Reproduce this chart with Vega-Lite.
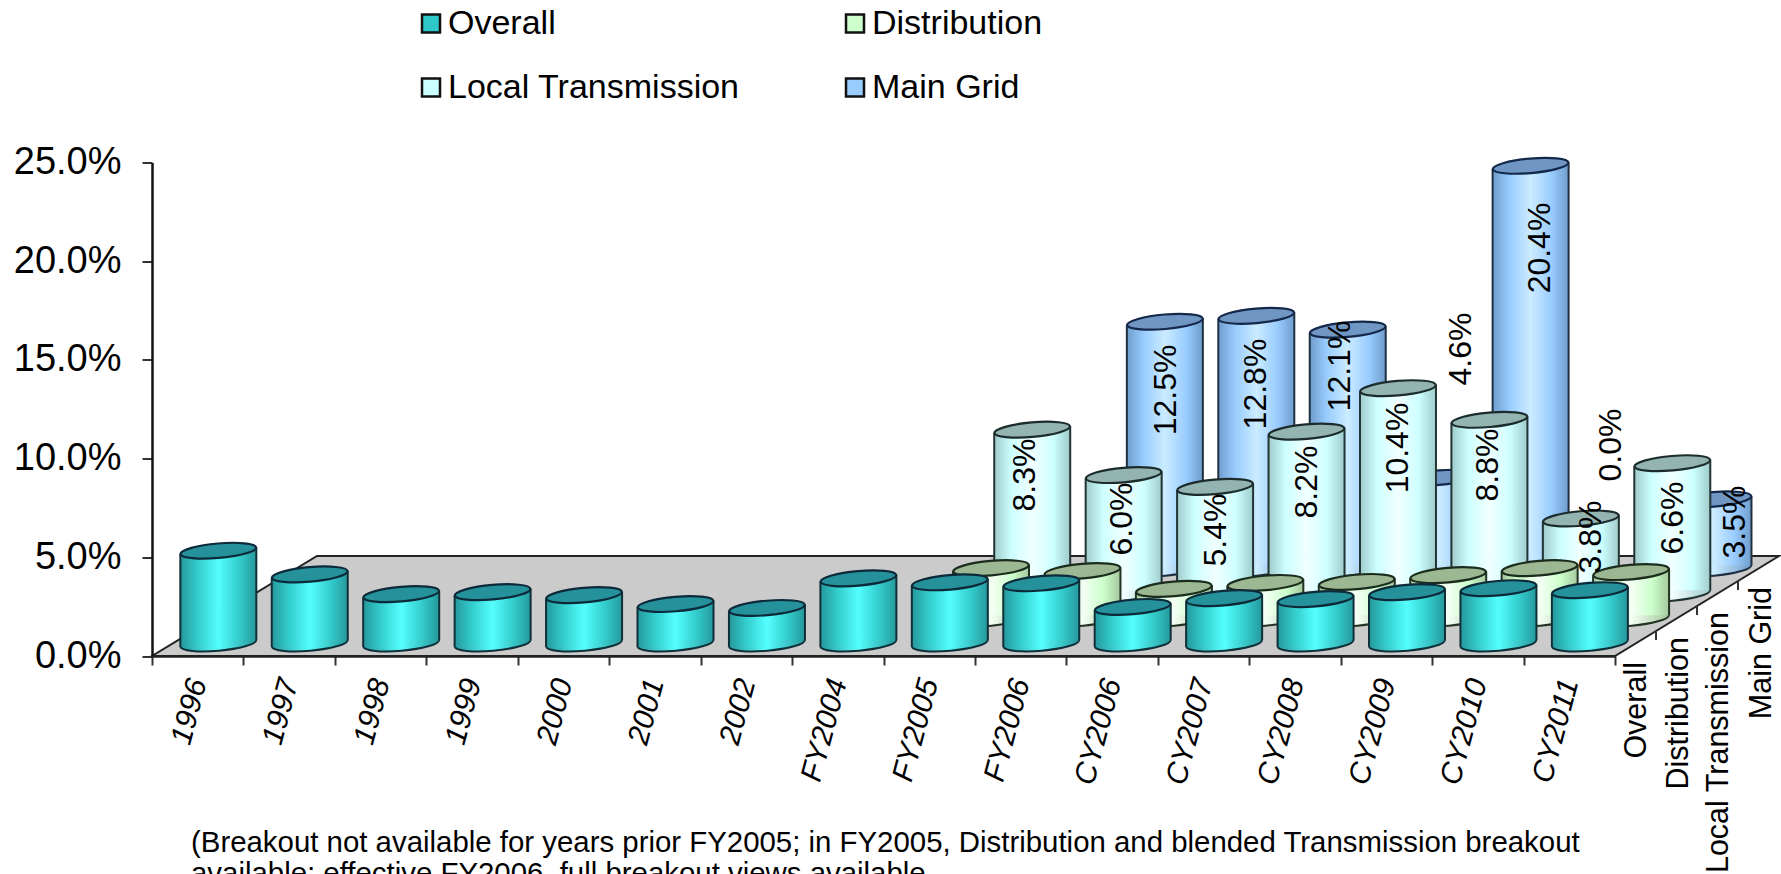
{"$schema":"https://vega.github.io/schema/vega-lite/v6.json","width":1463,"height":493.5,"autosize":"none","padding":{"left":152,"top":162.5,"right":166,"bottom":218},"background":"white","config":{"view":{"stroke":null},"font":"Liberation Sans"},
"title":{"text":["(Breakout not available for years prior FY2005; in FY2005, Distribution and blended Transmission breakout","available; effective FY2006, full breakout views available."],"orient":"bottom","anchor":"start","frame":"group","align":"left","offset":-45,"dx":39,"fontSize":29.4,"fontWeight":"normal","font":"Liberation Sans","color":"black","lineHeight":31},
"data":{"values":[
{"year":"1996","series":"Overall","value":0.047},{"year":"1997","series":"Overall","value":0.035},{"year":"1998","series":"Overall","value":0.025},{"year":"1999","series":"Overall","value":0.026},{"year":"2000","series":"Overall","value":0.0245},{"year":"2001","series":"Overall","value":0.02},{"year":"2002","series":"Overall","value":0.018},{"year":"FY2004","series":"Overall","value":0.033},{"year":"FY2005","series":"Overall","value":0.031},{"year":"FY2006","series":"Overall","value":0.0305},{"year":"CY2006","series":"Overall","value":0.0185},{"year":"CY2007","series":"Overall","value":0.023},{"year":"CY2008","series":"Overall","value":0.0225},{"year":"CY2009","series":"Overall","value":0.026},{"year":"CY2010","series":"Overall","value":0.028},{"year":"CY2011","series":"Overall","value":0.027},
{"year":"FY2005","series":"Distribution","value":0.0255},{"year":"FY2006","series":"Distribution","value":0.024},{"year":"CY2006","series":"Distribution","value":0.015},{"year":"CY2007","series":"Distribution","value":0.018},{"year":"CY2008","series":"Distribution","value":0.0185},{"year":"CY2009","series":"Distribution","value":0.022},{"year":"CY2010","series":"Distribution","value":0.0255},{"year":"CY2011","series":"Distribution","value":0.0235},
{"year":"FY2005","series":"Local Transmission","value":0.083},{"year":"FY2006","series":"Local Transmission","value":0.06},{"year":"CY2006","series":"Local Transmission","value":0.054},{"year":"CY2007","series":"Local Transmission","value":0.082},{"year":"CY2008","series":"Local Transmission","value":0.104},{"year":"CY2009","series":"Local Transmission","value":0.088},{"year":"CY2010","series":"Local Transmission","value":0.038},{"year":"CY2011","series":"Local Transmission","value":0.066},
{"year":"FY2006","series":"Main Grid","value":0.125},{"year":"CY2006","series":"Main Grid","value":0.128},{"year":"CY2007","series":"Main Grid","value":0.121},{"year":"CY2008","series":"Main Grid","value":0.046},{"year":"CY2009","series":"Main Grid","value":0.204},{"year":"CY2010","series":"Main Grid","value":0.0},{"year":"CY2011","series":"Main Grid","value":0.035}
]},
"encoding":{
"x":{"field":"year","type":"nominal","title":null,"sort":null,"scale":{"type":"band","paddingInner":0,"paddingOuter":0,"domain":["1996","1997","1998","1999","2000","2001","2002","FY2004","FY2005","FY2006","CY2006","CY2007","CY2008","CY2009","CY2010","CY2011"]},"axis":{"zindex":1,"tickBand":"extent","tickSize":9,"tickWidth":2,"tickColor":"#333333","domainColor":"#222222","domainWidth":2.5,"labelAngle":285,"labelAlign":"right","labelBaseline":"middle","labelFont":"Liberation Sans","labelFontStyle":"italic","labelFontSize":30,"labelColor":"black","labelPadding":14,"labelOverlap":false,"labelLimit":300,"grid":false}},
"y":{"field":"value","type":"quantitative","title":null,"scale":{"domain":[0,0.25],"nice":false},"axis":{"zindex":1,"values":[0,0.05,0.1,0.15,0.2,0.25],"format":".1%","tickSize":10,"tickWidth":2,"tickColor":"#333333","domainColor":"#111111","domainWidth":2.5,"labelFont":"Liberation Sans","labelFontSize":38,"labelColor":"black","labelPadding":21,"grid":false}}
},
"layer":[
{"mark":{"type":"point","opacity":0,"filled":true},"encoding":{"color":{"field":"series","type":"nominal","scale":{"domain":["Overall","Distribution","Local Transmission","Main Grid"],"range":["#2ec8c8","#ccffcc","#ccffff","#99ccff"]},"legend":{"title":null,"orient":"none","direction":"horizontal","legendX":262,"legendY":-156,"columns":2,"columnPadding":98,"rowPadding":30,"symbolType":"square","symbolSize":324,"symbolOpacity":1,"symbolStrokeColor":"#111111","symbolStrokeWidth":2.5,"labelFont":"Liberation Sans","labelFontSize":34,"labelColor":"black","labelLimit":500,"labelOffset":0,"symbolOffset":0}}}},
{"transform":[{"filter":"datum.year=='1996' && datum.series=='Overall'"}],"mark":{"type":"point","filled":true,"opacity":1,"shape":"M-45.7,0 L1417.3,0 L1581.3,-100 L119.3,-100 Z","size":4,"fill":"#cbcbcb","stroke":"#222222","strokeWidth":2},"encoding":{"y":{"datum":0,"type":"quantitative"}}},

{"transform":[{"filter":"datum.series=='Main Grid' && datum.value>0"}],"layer":[
{"mark":{"type":"point","filled":true,"opacity":1,"xOffset":144.2,"yOffset":-87.5,"shape":"M-0.996,0.087 A1,0.195,-5,0,1,0.996,-0.087 A1,0.195,-5,0,1,-0.996,0.087 Z","size":5776,"stroke":"#1f2f3f","strokeWidth":2,"fill":{"gradient":"linear","x1":0,"y1":0,"x2":1,"y2":0,"stops":[{"offset":0,"color":"#6e9ccb"},{"offset":0.5,"color":"#ccecff"},{"offset":1,"color":"#6e9ccb"}]}},"encoding":{"y":{"datum":0,"type":"quantitative"}}},
{"mark":{"type":"bar","width":38.5,"xOffset":125.2,"yOffset":-84.2,"y2Offset":-84.2,"fill":{"gradient":"linear","x1":0,"y1":0,"x2":1,"y2":0,"stops":[{"offset":0,"color":"#6e9ccb"},{"offset":0.45,"color":"#99ccff"},{"offset":1,"color":"#ccecff"}]}},"encoding":{"y2":{"datum":0}}},
{"mark":{"type":"bar","width":38.5,"xOffset":163.2,"yOffset":-90.8,"y2Offset":-90.8,"fill":{"gradient":"linear","x1":0,"y1":0,"x2":1,"y2":0,"stops":[{"offset":0,"color":"#ccecff"},{"offset":0.55,"color":"#99ccff"},{"offset":1,"color":"#6e9ccb"}]}},"encoding":{"y2":{"datum":0}}},
{"mark":{"type":"rule","color":"#1f2f3f","strokeWidth":2,"xOffset":106.2,"yOffset":-84.2,"y2Offset":-84.2},"encoding":{"y2":{"datum":0}}},
{"mark":{"type":"rule","color":"#1f2f3f","strokeWidth":2,"xOffset":182.2,"yOffset":-90.8,"y2Offset":-90.8},"encoding":{"y2":{"datum":0}}},
{"mark":{"type":"point","filled":true,"opacity":1,"xOffset":144.2,"yOffset":-87.5,"shape":"M-0.996,0.087 A1,0.195,-5,0,1,0.996,-0.087 A1,0.195,-5,0,1,-0.996,0.087 Z","size":5776,"stroke":"#14284a","strokeWidth":2.2,"fill":"#7096c4"}}
]},

{"transform":[{"filter":"datum.series=='Local Transmission' && datum.value>0"}],"layer":[
{"mark":{"type":"point","filled":true,"opacity":1,"xOffset":103,"yOffset":-62.5,"shape":"M-0.996,0.087 A1,0.195,-5,0,1,0.996,-0.087 A1,0.195,-5,0,1,-0.996,0.087 Z","size":5776,"stroke":"#223333","strokeWidth":2,"fill":{"gradient":"linear","x1":0,"y1":0,"x2":1,"y2":0,"stops":[{"offset":0,"color":"#9fcaca"},{"offset":0.5,"color":"#f2ffff"},{"offset":1,"color":"#9fcaca"}]}},"encoding":{"y":{"datum":0,"type":"quantitative"}}},
{"mark":{"type":"bar","width":38.5,"xOffset":84,"yOffset":-59.2,"y2Offset":-59.2,"fill":{"gradient":"linear","x1":0,"y1":0,"x2":1,"y2":0,"stops":[{"offset":0,"color":"#9fcaca"},{"offset":0.45,"color":"#ccffff"},{"offset":1,"color":"#f2ffff"}]}},"encoding":{"y2":{"datum":0}}},
{"mark":{"type":"bar","width":38.5,"xOffset":122,"yOffset":-65.8,"y2Offset":-65.8,"fill":{"gradient":"linear","x1":0,"y1":0,"x2":1,"y2":0,"stops":[{"offset":0,"color":"#f2ffff"},{"offset":0.55,"color":"#ccffff"},{"offset":1,"color":"#9fcaca"}]}},"encoding":{"y2":{"datum":0}}},
{"mark":{"type":"rule","color":"#223333","strokeWidth":2,"xOffset":65,"yOffset":-59.2,"y2Offset":-59.2},"encoding":{"y2":{"datum":0}}},
{"mark":{"type":"rule","color":"#223333","strokeWidth":2,"xOffset":141,"yOffset":-65.8,"y2Offset":-65.8},"encoding":{"y2":{"datum":0}}},
{"mark":{"type":"point","filled":true,"opacity":1,"xOffset":103,"yOffset":-62.5,"shape":"M-0.996,0.087 A1,0.195,-5,0,1,0.996,-0.087 A1,0.195,-5,0,1,-0.996,0.087 Z","size":5776,"stroke":"#1c2c2c","strokeWidth":2.2,"fill":"#94b4b1"}}
]},

{"transform":[{"filter":"datum.series=='Distribution' && datum.value>0"}],"layer":[
{"mark":{"type":"point","filled":true,"opacity":1,"xOffset":61.8,"yOffset":-37.5,"shape":"M-0.996,0.087 A1,0.195,-5,0,1,0.996,-0.087 A1,0.195,-5,0,1,-0.996,0.087 Z","size":5776,"stroke":"#223322","strokeWidth":2,"fill":{"gradient":"linear","x1":0,"y1":0,"x2":1,"y2":0,"stops":[{"offset":0,"color":"#a3c79c"},{"offset":0.5,"color":"#f5fff5"},{"offset":1,"color":"#a3c79c"}]}},"encoding":{"y":{"datum":0,"type":"quantitative"}}},
{"mark":{"type":"bar","width":38.5,"xOffset":42.8,"yOffset":-34.2,"y2Offset":-34.2,"fill":{"gradient":"linear","x1":0,"y1":0,"x2":1,"y2":0,"stops":[{"offset":0,"color":"#a3c79c"},{"offset":0.45,"color":"#ccffcc"},{"offset":1,"color":"#f5fff5"}]}},"encoding":{"y2":{"datum":0}}},
{"mark":{"type":"bar","width":38.5,"xOffset":80.8,"yOffset":-40.8,"y2Offset":-40.8,"fill":{"gradient":"linear","x1":0,"y1":0,"x2":1,"y2":0,"stops":[{"offset":0,"color":"#f5fff5"},{"offset":0.55,"color":"#ccffcc"},{"offset":1,"color":"#a3c79c"}]}},"encoding":{"y2":{"datum":0}}},
{"mark":{"type":"rule","color":"#223322","strokeWidth":2,"xOffset":23.8,"yOffset":-34.2,"y2Offset":-34.2},"encoding":{"y2":{"datum":0}}},
{"mark":{"type":"rule","color":"#223322","strokeWidth":2,"xOffset":99.8,"yOffset":-40.8,"y2Offset":-40.8},"encoding":{"y2":{"datum":0}}},
{"mark":{"type":"point","filled":true,"opacity":1,"xOffset":61.8,"yOffset":-37.5,"shape":"M-0.996,0.087 A1,0.195,-5,0,1,0.996,-0.087 A1,0.195,-5,0,1,-0.996,0.087 Z","size":5776,"stroke":"#1c2c1c","strokeWidth":2.2,"fill":"#9cb892"}}
]},

{"transform":[{"filter":"datum.series=='Overall' && datum.value>0"}],"layer":[
{"mark":{"type":"point","filled":true,"opacity":1,"xOffset":20.6,"yOffset":-12.5,"shape":"M-0.996,0.087 A1,0.195,-5,0,1,0.996,-0.087 A1,0.195,-5,0,1,-0.996,0.087 Z","size":5776,"stroke":"#0f3038","strokeWidth":2,"fill":{"gradient":"linear","x1":0,"y1":0,"x2":1,"y2":0,"stops":[{"offset":0,"color":"#25979b"},{"offset":0.5,"color":"#55ffff"},{"offset":1,"color":"#25979b"}]}},"encoding":{"y":{"datum":0,"type":"quantitative"}}},
{"mark":{"type":"bar","width":38.5,"xOffset":1.6,"yOffset":-9.2,"y2Offset":-9.2,"fill":{"gradient":"linear","x1":0,"y1":0,"x2":1,"y2":0,"stops":[{"offset":0,"color":"#25979b"},{"offset":0.45,"color":"#33cccc"},{"offset":1,"color":"#55ffff"}]}},"encoding":{"y2":{"datum":0}}},
{"mark":{"type":"bar","width":38.5,"xOffset":39.6,"yOffset":-15.8,"y2Offset":-15.8,"fill":{"gradient":"linear","x1":0,"y1":0,"x2":1,"y2":0,"stops":[{"offset":0,"color":"#55ffff"},{"offset":0.55,"color":"#33cccc"},{"offset":1,"color":"#25979b"}]}},"encoding":{"y2":{"datum":0}}},
{"mark":{"type":"rule","color":"#0f3038","strokeWidth":2,"xOffset":-17.4,"yOffset":-9.2,"y2Offset":-9.2},"encoding":{"y2":{"datum":0}}},
{"mark":{"type":"rule","color":"#0f3038","strokeWidth":2,"xOffset":58.6,"yOffset":-15.8,"y2Offset":-15.8},"encoding":{"y2":{"datum":0}}},
{"mark":{"type":"point","filled":true,"opacity":1,"xOffset":20.6,"yOffset":-12.5,"shape":"M-0.996,0.087 A1,0.195,-5,0,1,0.996,-0.087 A1,0.195,-5,0,1,-0.996,0.087 Z","size":5776,"stroke":"#0c2a3a","strokeWidth":2.2,"fill":"#25919a"}}
]},

{"transform":[{"filter":"datum.year=='CY2011' && datum.series=='Overall'"}],"layer":[
{"mark":{"type":"rule","color":"#333333","strokeWidth":2,"xOffset":41,"yOffset":-25,"y2Offset":-16},"encoding":{"x":{"field":"year","type":"nominal","title":null,"bandPosition":1},"y":{"datum":0,"type":"quantitative"},"y2":{"datum":0}}},
{"mark":{"type":"rule","color":"#333333","strokeWidth":2,"xOffset":82,"yOffset":-50,"y2Offset":-41},"encoding":{"x":{"field":"year","type":"nominal","title":null,"bandPosition":1},"y":{"datum":0,"type":"quantitative"},"y2":{"datum":0}}},
{"mark":{"type":"rule","color":"#333333","strokeWidth":2,"xOffset":123,"yOffset":-75,"y2Offset":-66},"encoding":{"x":{"field":"year","type":"nominal","title":null,"bandPosition":1},"y":{"datum":0,"type":"quantitative"},"y2":{"datum":0}}}
]},

{"transform":[{"filter":"datum.year=='CY2011' && datum.series=='Overall'"}],"mark":{"type":"text","angle":270,"align":"right","baseline":"middle","fontSize":30.5,"color":"black","xOffset":67.7,"yOffset":6},"encoding":{"y":{"datum":0,"type":"quantitative"},"text":{"field":"series"}}},
{"transform":[{"filter":"datum.year=='CY2011' && datum.series=='Distribution'"}],"mark":{"type":"text","angle":270,"align":"right","baseline":"middle","fontSize":30.5,"color":"black","xOffset":109.7,"yOffset":-19},"encoding":{"y":{"datum":0,"type":"quantitative"},"text":{"field":"series"}}},
{"transform":[{"filter":"datum.year=='CY2011' && datum.series=='Local Transmission'"}],"mark":{"type":"text","angle":270,"align":"right","baseline":"middle","fontSize":30.5,"color":"black","xOffset":149.7,"yOffset":-44},"encoding":{"y":{"datum":0,"type":"quantitative"},"text":{"field":"series"}}},
{"transform":[{"filter":"datum.year=='CY2011' && datum.series=='Main Grid'"}],"mark":{"type":"text","angle":270,"align":"right","baseline":"middle","fontSize":30.5,"color":"black","xOffset":192.7,"yOffset":-69},"encoding":{"y":{"datum":0,"type":"quantitative"},"text":{"field":"series"}}},

{"transform":[{"filter":"datum.series=='Local Transmission' && datum.year=='FY2005'"}],"mark":{"type":"text","angle":270,"fontSize":32,"color":"black","xOffset":96.2,"yOffset":-17.2},"encoding":{"text":{"field":"value","type":"quantitative","format":".1%"}}},
{"transform":[{"filter":"datum.series=='Local Transmission' && datum.year=='FY2006'"}],"mark":{"type":"text","angle":270,"fontSize":32,"color":"black","xOffset":101.4,"yOffset":-18.6},"encoding":{"text":{"field":"value","type":"quantitative","format":".1%"}}},
{"transform":[{"filter":"datum.series=='Local Transmission' && datum.year=='CY2006'"}],"mark":{"type":"text","angle":270,"fontSize":32,"color":"black","xOffset":104.4,"yOffset":-19.4},"encoding":{"text":{"field":"value","type":"quantitative","format":".1%"}}},
{"transform":[{"filter":"datum.series=='Local Transmission' && datum.year=='CY2007'"}],"mark":{"type":"text","angle":270,"fontSize":32,"color":"black","xOffset":103.5,"yOffset":-12.1},"encoding":{"text":{"field":"value","type":"quantitative","format":".1%"}}},
{"transform":[{"filter":"datum.series=='Local Transmission' && datum.year=='CY2008'"}],"mark":{"type":"text","angle":270,"fontSize":32,"color":"black","xOffset":103,"yOffset":-2.7},"encoding":{"text":{"field":"value","type":"quantitative","format":".1%"}}},
{"transform":[{"filter":"datum.series=='Local Transmission' && datum.year=='CY2009'"}],"mark":{"type":"text","angle":270,"fontSize":32,"color":"black","xOffset":101.6,"yOffset":-17.3},"encoding":{"text":{"field":"value","type":"quantitative","format":".1%"}}},
{"transform":[{"filter":"datum.series=='Local Transmission' && datum.year=='CY2010'"}],"mark":{"type":"text","angle":270,"fontSize":32,"color":"black","xOffset":113.2,"yOffset":-44},"encoding":{"text":{"field":"value","type":"quantitative","format":".1%"}}},
{"transform":[{"filter":"datum.series=='Local Transmission' && datum.year=='CY2011'"}],"mark":{"type":"text","angle":270,"fontSize":32,"color":"black","xOffset":103.7,"yOffset":-7.7},"encoding":{"text":{"field":"value","type":"quantitative","format":".1%"}}},
{"transform":[{"filter":"datum.series=='Main Grid' && datum.year=='FY2006'"}],"mark":{"type":"text","angle":270,"fontSize":32,"color":"black","xOffset":144.9,"yOffset":-19.3},"encoding":{"text":{"field":"value","type":"quantitative","format":".1%"}}},
{"transform":[{"filter":"datum.series=='Main Grid' && datum.year=='CY2006'"}],"mark":{"type":"text","angle":270,"fontSize":32,"color":"black","xOffset":143.9,"yOffset":-19.3},"encoding":{"text":{"field":"value","type":"quantitative","format":".1%"}}},
{"transform":[{"filter":"datum.series=='Main Grid' && datum.year=='CY2007'"}],"mark":{"type":"text","angle":270,"fontSize":32,"color":"black","xOffset":136.5,"yOffset":-51.1},"encoding":{"text":{"field":"value","type":"quantitative","format":".1%"}}},
{"transform":[{"filter":"datum.series=='Main Grid' && datum.year=='CY2008'"}],"mark":{"type":"text","angle":270,"fontSize":32,"color":"black","xOffset":166,"yOffset":-216.2},"encoding":{"text":{"field":"value","type":"quantitative","format":".1%"}}},
{"transform":[{"filter":"datum.series=='Main Grid' && datum.year=='CY2009'"}],"mark":{"type":"text","angle":270,"fontSize":32,"color":"black","xOffset":154,"yOffset":-5.3},"encoding":{"text":{"field":"value","type":"quantitative","format":".1%"}}},
{"transform":[{"filter":"datum.series=='Main Grid' && datum.year=='CY2010'"}],"mark":{"type":"text","angle":270,"fontSize":32,"color":"black","xOffset":133.2,"yOffset":-211},"encoding":{"text":{"field":"value","type":"quantitative","format":".1%"}}},
{"transform":[{"filter":"datum.series=='Main Grid' && datum.year=='CY2011'"}],"mark":{"type":"text","angle":270,"fontSize":32,"color":"black","xOffset":166.2,"yOffset":-64.9},"encoding":{"text":{"field":"value","type":"quantitative","format":".1%"}}}
]
}
